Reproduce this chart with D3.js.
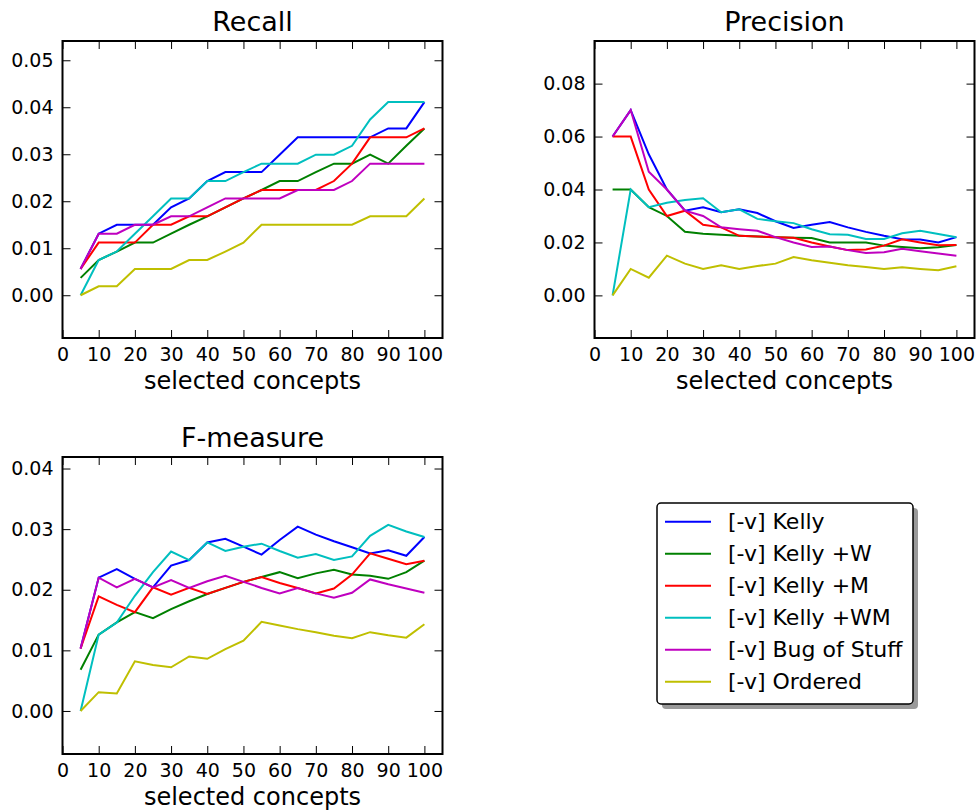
<!DOCTYPE html>
<html>
<head>
<meta charset="utf-8">
<script src="https://cdn.jsdelivr.net/npm/d3@7"></script>
<style>
  html, body { margin: 0; padding: 0; background: #ffffff; }
  svg { display: block; font-family: "DejaVu Sans", sans-serif; }
</style>
</head>
<body>
<svg id="chart" width="979" height="812"></svg>
<script>
// Number of selected concepts (x positions shared by all panels)
const concepts = [5, 10, 15, 20, 25, 30, 35, 40, 45, 50, 55, 60, 65, 70, 75, 80, 85, 90, 95, 100];

const seriesNames = ["[-v] Kelly", "[-v] Kelly +W", "[-v] Kelly +M", "[-v] Kelly +WM", "[-v] Bug of Stuff", "[-v] Ordered"];
const seriesColors = ["#0000ff", "#008000", "#ff0000", "#00bfbf", "#bf00bf", "#bfbf00"];

// Recall, one row per series (same order as seriesNames)
const recall = [
  [0.0056, 0.0131, 0.0150, 0.0150, 0.0150, 0.0187, 0.0206, 0.0243, 0.0262, 0.0262, 0.0262, 0.0299, 0.0336, 0.0336, 0.0336, 0.0336, 0.0336, 0.0355, 0.0355, 0.0411],
  [0.0037, 0.0075, 0.0093, 0.0112, 0.0112, 0.0131, 0.0150, 0.0168, 0.0187, 0.0206, 0.0224, 0.0243, 0.0243, 0.0262, 0.0280, 0.0280, 0.0299, 0.0280, 0.0318, 0.0355],
  [0.0056, 0.0112, 0.0112, 0.0112, 0.0150, 0.0150, 0.0168, 0.0168, 0.0187, 0.0206, 0.0224, 0.0224, 0.0224, 0.0224, 0.0243, 0.0280, 0.0336, 0.0336, 0.0336, 0.0355],
  [0.0000, 0.0075, 0.0093, 0.0131, 0.0168, 0.0206, 0.0206, 0.0243, 0.0243, 0.0262, 0.0280, 0.0280, 0.0280, 0.0299, 0.0299, 0.0318, 0.0374, 0.0411, 0.0411, 0.0411],
  [0.0056, 0.0131, 0.0131, 0.0150, 0.0150, 0.0168, 0.0168, 0.0187, 0.0206, 0.0206, 0.0206, 0.0206, 0.0224, 0.0224, 0.0224, 0.0243, 0.0280, 0.0280, 0.0280, 0.0280],
  [0.0000, 0.0019, 0.0019, 0.0056, 0.0056, 0.0056, 0.0075, 0.0075, 0.0093, 0.0112, 0.0150, 0.0150, 0.0150, 0.0150, 0.0150, 0.0150, 0.0168, 0.0168, 0.0168, 0.0206]
];

// Precision
const precision = [
  [0.0600, 0.0700, 0.0533, 0.0400, 0.0320, 0.0333, 0.0314, 0.0325, 0.0311, 0.0280, 0.0255, 0.0267, 0.0277, 0.0257, 0.0240, 0.0225, 0.0212, 0.0211, 0.0200, 0.0220],
  [0.0400, 0.0400, 0.0333, 0.0300, 0.0240, 0.0233, 0.0229, 0.0225, 0.0222, 0.0220, 0.0218, 0.0217, 0.0200, 0.0200, 0.0200, 0.0188, 0.0183, 0.0178, 0.0182, 0.0190],
  [0.0600, 0.0600, 0.0400, 0.0300, 0.0320, 0.0267, 0.0257, 0.0225, 0.0222, 0.0220, 0.0218, 0.0200, 0.0185, 0.0171, 0.0173, 0.0188, 0.0212, 0.0200, 0.0189, 0.0190],
  [0.0000, 0.0400, 0.0333, 0.0350, 0.0360, 0.0367, 0.0314, 0.0325, 0.0289, 0.0280, 0.0273, 0.0250, 0.0231, 0.0229, 0.0213, 0.0213, 0.0235, 0.0244, 0.0232, 0.0220],
  [0.0600, 0.0700, 0.0467, 0.0400, 0.0320, 0.0300, 0.0257, 0.0250, 0.0244, 0.0220, 0.0200, 0.0183, 0.0185, 0.0171, 0.0160, 0.0163, 0.0176, 0.0167, 0.0158, 0.0150],
  [0.0000, 0.0100, 0.0067, 0.0150, 0.0120, 0.0100, 0.0114, 0.0100, 0.0111, 0.0120, 0.0145, 0.0133, 0.0123, 0.0114, 0.0107, 0.0100, 0.0106, 0.0100, 0.0095, 0.0110]
];

// F-measure
const fMeasure = [
  [0.0103, 0.0220, 0.0234, 0.0218, 0.0204, 0.0240, 0.0249, 0.0278, 0.0284, 0.0271, 0.0258, 0.0282, 0.0304, 0.0291, 0.0280, 0.0270, 0.0260, 0.0265, 0.0256, 0.0287],
  [0.0068, 0.0126, 0.0146, 0.0163, 0.0153, 0.0168, 0.0181, 0.0193, 0.0203, 0.0213, 0.0221, 0.0229, 0.0219, 0.0227, 0.0233, 0.0225, 0.0223, 0.0218, 0.0229, 0.0248],
  [0.0103, 0.0189, 0.0175, 0.0163, 0.0204, 0.0192, 0.0203, 0.0193, 0.0203, 0.0213, 0.0221, 0.0211, 0.0203, 0.0194, 0.0202, 0.0225, 0.0260, 0.0251, 0.0242, 0.0248],
  [0.0000, 0.0126, 0.0146, 0.0190, 0.0229, 0.0263, 0.0249, 0.0278, 0.0264, 0.0271, 0.0276, 0.0264, 0.0253, 0.0259, 0.0249, 0.0255, 0.0289, 0.0307, 0.0296, 0.0287],
  [0.0103, 0.0220, 0.0204, 0.0218, 0.0204, 0.0216, 0.0203, 0.0214, 0.0223, 0.0213, 0.0203, 0.0194, 0.0203, 0.0194, 0.0187, 0.0195, 0.0217, 0.0209, 0.0202, 0.0195],
  [0.0000, 0.0031, 0.0029, 0.0082, 0.0076, 0.0072, 0.0090, 0.0086, 0.0102, 0.0116, 0.0147, 0.0141, 0.0135, 0.0130, 0.0124, 0.0120, 0.0130, 0.0125, 0.0121, 0.0143]
];

// Axis ticks
const xTicks = [0, 10, 20, 30, 40, 50, 60, 70, 80, 90, 100];
const recallTicks = [0.00, 0.01, 0.02, 0.03, 0.04, 0.05];
const precisionTicks = [0.00, 0.02, 0.04, 0.06, 0.08];
const fTicks = [0.00, 0.01, 0.02, 0.03, 0.04];

const svg = d3.select("#chart");

const panelW = 380, panelH = 297;
const panels = [
  { title: "Recall",    values: recall,    ticks: recallTicks,    yDomain: [-0.0091, 0.0541], left: 62.5,  top: 41 },
  { title: "Precision", values: precision, ticks: precisionTicks, yDomain: [-0.0161, 0.0961], left: 594.5, top: 41 },
  { title: "F-measure", values: fMeasure,  ticks: fTicks,         yDomain: [-0.0071, 0.0419], left: 62.5,  top: 457 }
];

panels.forEach(p => {
  const g = svg.append("g").attr("transform", `translate(${p.left},${p.top})`);
  const x = d3.scaleLinear().domain([0, 105]).range([0, panelW]);
  const y = d3.scaleLinear().domain(p.yDomain).range([panelH, 0]);

  const line = d3.line().x((d, i) => x(concepts[i])).y(d => y(d));

  const plot = g.append("g");
  p.values.forEach((vals, s) => {
    plot.append("path")
      .datum(vals)
      .attr("fill", "none")
      .attr("stroke", seriesColors[s])
      .attr("stroke-width", 2)
      .attr("stroke-linejoin", "miter")
      .attr("d", line);
  });

  // axes with inward ticks on all four sides
  const styleAxis = sel => {
    sel.select(".domain").remove();
    sel.selectAll(".tick line").attr("stroke", "#000").attr("stroke-width", 1);
    sel.selectAll("text").attr("fill", "#000").style("font-size", "19px").style("font-family", "DejaVu Sans");
  };

  g.append("g").attr("transform", `translate(0,${panelH})`)
    .call(d3.axisBottom(x).tickValues(xTicks).tickFormat(d3.format("d")).tickSize(-8).tickPadding(10))
    .call(styleAxis);
  g.append("g")
    .call(d3.axisTop(x).tickValues(xTicks).tickFormat("").tickSize(-8))
    .call(styleAxis);
  g.append("g")
    .call(d3.axisLeft(y).tickValues(p.ticks).tickFormat(d3.format(".2f")).tickSize(-8).tickPadding(9))
    .call(styleAxis);
  g.append("g").attr("transform", `translate(${panelW},0)`)
    .call(d3.axisRight(y).tickValues(p.ticks).tickFormat("").tickSize(-8))
    .call(styleAxis);

  g.append("rect")
    .attr("width", panelW).attr("height", panelH)
    .attr("fill", "none").attr("stroke", "#000").attr("stroke-width", 2);

  g.append("text")
    .attr("x", panelW / 2).attr("y", -10)
    .attr("text-anchor", "middle")
    .style("font-size", "27px")
    .text(p.title);

  g.append("text")
    .attr("x", panelW / 2).attr("y", panelH + 51)
    .attr("text-anchor", "middle")
    .style("font-size", "24px")
    .text("selected concepts");
});

// legend with drop shadow
const legend = svg.append("g").attr("transform", "translate(657,503)");
const legW = 256, legH = 201;
legend.append("rect")
  .attr("x", 5).attr("y", 5).attr("width", legW).attr("height", legH)
  .attr("rx", 4).attr("fill", "#9a9a9a");
legend.append("rect")
  .attr("width", legW).attr("height", legH)
  .attr("rx", 4).attr("fill", "#ffffff").attr("stroke", "#000").attr("stroke-width", 1.5);

seriesNames.forEach((name, i) => {
  const yy = 18.7 + i * 32;
  legend.append("line")
    .attr("x1", 8).attr("x2", 54).attr("y1", yy).attr("y2", yy)
    .attr("stroke", seriesColors[i]).attr("stroke-width", 2);
  legend.append("text")
    .attr("x", 71).attr("y", yy).attr("dy", "0.35em")
    .style("font-size", "22px")
    .text(name);
});
</script>
</body>
</html>
